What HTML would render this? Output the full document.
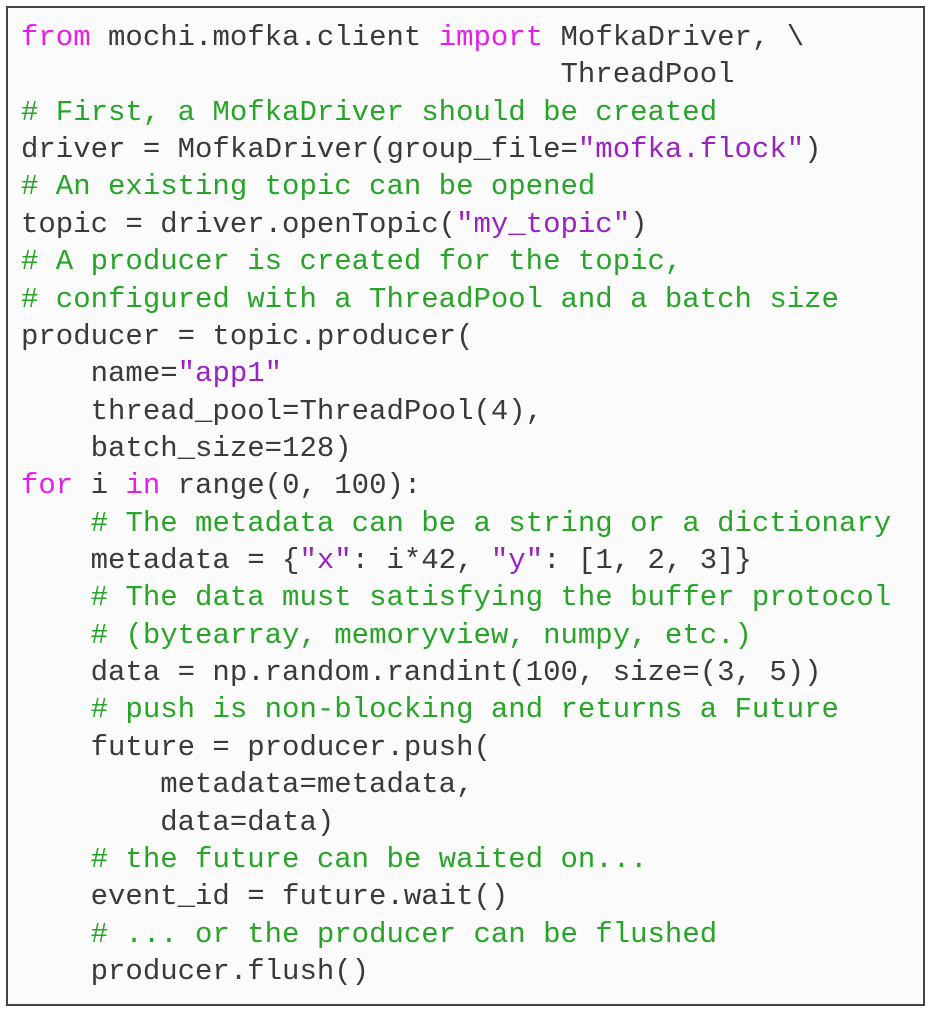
<!DOCTYPE html>
<html><head><style>
html,body{margin:0;padding:0;background:#fff;width:930px;height:1013px;overflow:hidden}
.box{position:absolute;left:6px;top:6px;width:915px;height:996px;border:2px solid #444;background:#fbfbfb}
pre{position:absolute;left:21px;top:19px;margin:0;font-family:"Liberation Mono",monospace;font-size:29px;line-height:37.36px;color:#3a3a3a}
.k{color:#e61ee6}.c{color:#28a428}.s{color:#9a22c0}
</style></head><body><div class="box"></div>
<pre><span class="k">from</span> mochi.mofka.client <span class="k">import</span> MofkaDriver, \
                               ThreadPool
<span class="c"># First, a MofkaDriver should be created</span>
driver = MofkaDriver(group_file=<span class="s">"mofka.flock"</span>)
<span class="c"># An existing topic can be opened</span>
topic = driver.openTopic(<span class="s">"my_topic"</span>)
<span class="c"># A producer is created for the topic,</span>
<span class="c"># configured with a ThreadPool and a batch size</span>
producer = topic.producer(
    name=<span class="s">"app1"</span>
    thread_pool=ThreadPool(4),
    batch_size=128)
<span class="k">for</span> i <span class="k">in</span> range(0, 100):
    <span class="c"># The metadata can be a string or a dictionary</span>
    metadata = {<span class="s">"x"</span>: i*42, <span class="s">"y"</span>: [1, 2, 3]}
    <span class="c"># The data must satisfying the buffer protocol</span>
    <span class="c"># (bytearray, memoryview, numpy, etc.)</span>
    data = np.random.randint(100, size=(3, 5))
    <span class="c"># push is non-blocking and returns a Future</span>
    future = producer.push(
        metadata=metadata,
        data=data)
    <span class="c"># the future can be waited on...</span>
    event_id = future.wait()
    <span class="c"># ... or the producer can be flushed</span>
    producer.flush()</pre>
</body></html>
